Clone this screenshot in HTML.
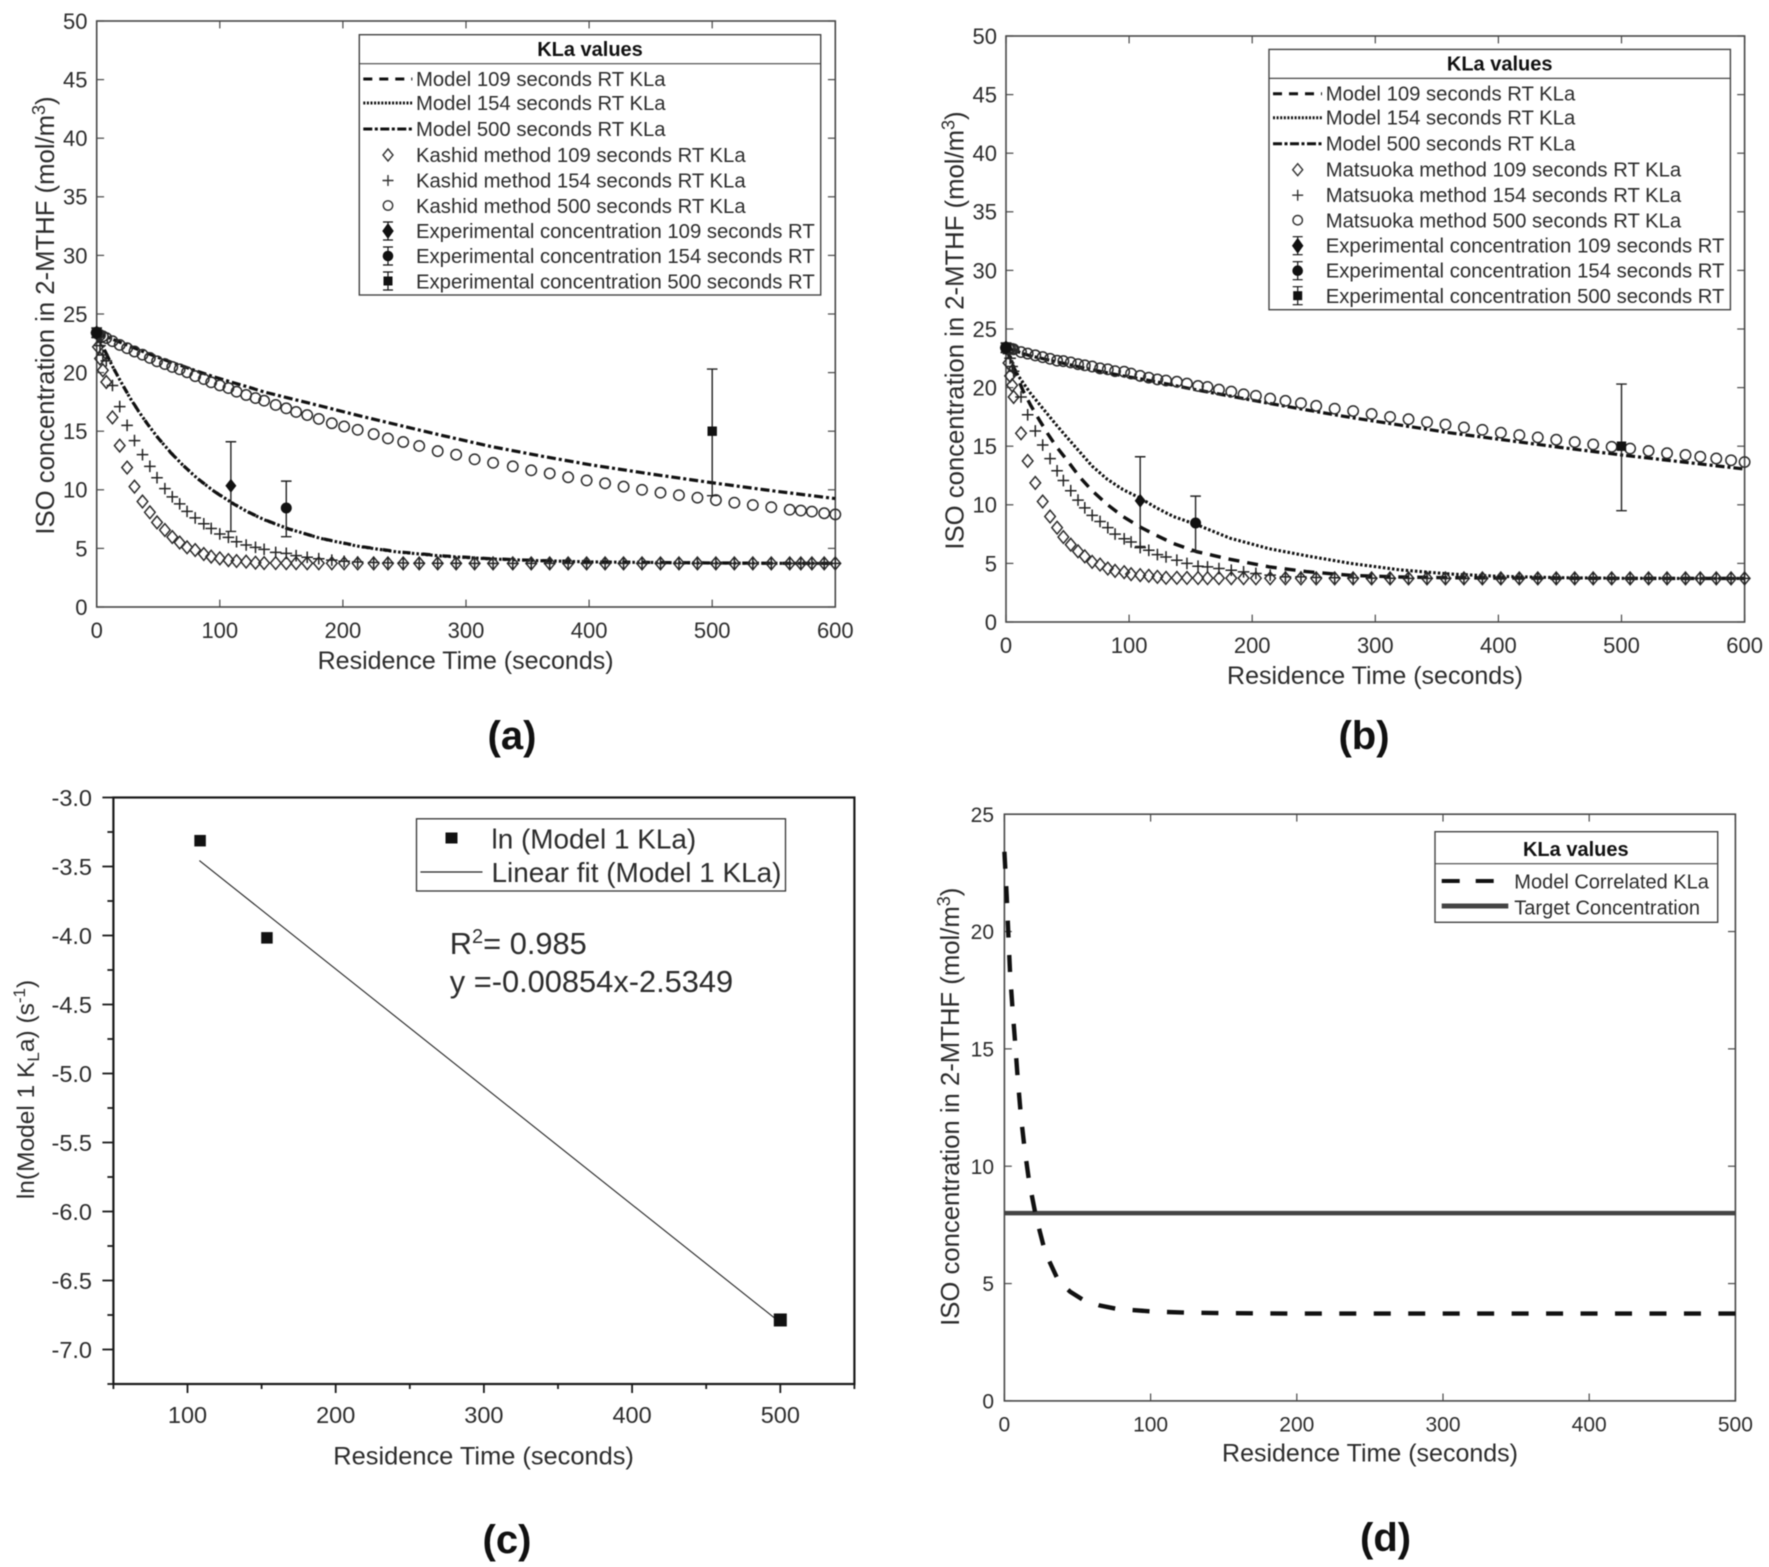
<!DOCTYPE html>
<html lang="en">
<head>
<meta charset="utf-8">
<title>ISO concentration charts</title>
<style>
html,body{margin:0;padding:0;background:#fff;}
svg{display:block;filter:blur(0.45px);}
text{font-family:"Liberation Sans",Arial,sans-serif;fill:#2c2c2c;}
.leg{font-size:20.3px;}
.hdr{font-size:20px;font-weight:bold;fill:#111;text-anchor:middle;}
.cap{font-size:40px;font-weight:bold;fill:#111;text-anchor:middle;}
.title{font-size:25px;text-anchor:middle;}
.ytitle{font-size:25.7px;text-anchor:middle;}
</style>
</head>
<body>
<svg id="fig" xmlns="http://www.w3.org/2000/svg" width="1769" height="1567" viewBox="0 0 1769 1567">
<rect x="0" y="0" width="1769" height="1567" fill="#fff"/>
<g id="pa"></g>
<g id="pb"></g>
<g id="pc"></g>
<g id="pd"></g>

<!-- Panel a static text -->
<text class="title" x="465.6" y="669">Residence Time (seconds)</text>
<text class="ytitle" transform="translate(54,315.5) rotate(-90)">ISO concentration in 2-MTHF (mol/m<tspan dy="-9" font-size="18">3</tspan><tspan dy="9">)</tspan></text>
<text class="cap" x="512" y="749">(a)</text>

<g>
<rect x="359.3" y="34.7" width="461.4" height="260.3" fill="#fff" stroke="#444" stroke-width="1.4"/>
<line x1="359.3" y1="63.7" x2="820.7" y2="63.7" stroke="#444" stroke-width="1.2"/>
<text class="hdr" x="590" y="56">KLa values</text>
<line x1="363.3" y1="79" x2="412.3" y2="79" stroke="#111" stroke-width="3" stroke-dasharray="9 7"/>
<line x1="363.3" y1="103" x2="412.3" y2="103" stroke="#111" stroke-width="3" stroke-dasharray="2 1.6"/>
<line x1="363.3" y1="129" x2="412.3" y2="129" stroke="#111" stroke-width="3" stroke-dasharray="9 2.5 3 2.5"/>
<path d="M388 149l5 6l-5 6l-5-6z" fill="none" stroke="#333" stroke-width="1.4"/>
<path d="M382.5 180.5h11M388 175v11" fill="none" stroke="#333" stroke-width="1.4"/>
<circle cx="388" cy="205.5" r="4.7" fill="none" stroke="#333" stroke-width="1.4"/>
<path d="M388 222v18M383 222h10M383 240h10M388 224l5 7l-5 7l-5-7z" fill="#111" stroke="#111" stroke-width="1.2"/>
<path d="M388 247v18M383 247h10M383 265h10" fill="none" stroke="#111" stroke-width="1.2"/>
<circle cx="388" cy="256" r="5.3" fill="#111"/>
<path d="M388 272v18M383 272h10M383 290h10" fill="none" stroke="#111" stroke-width="1.2"/>
<rect x="383.5" y="276.5" width="9" height="9" fill="#111"/>
<text class="leg" x="416" y="86">Model 109 seconds RT KLa</text>
<text class="leg" x="416" y="110">Model 154 seconds RT KLa</text>
<text class="leg" x="416" y="136">Model 500 seconds RT KLa</text>
<text class="leg" x="416" y="162">Kashid method 109 seconds RT KLa</text>
<text class="leg" x="416" y="187.5">Kashid method 154 seconds RT KLa</text>
<text class="leg" x="416" y="213">Kashid method 500 seconds RT KLa</text>
<text class="leg" x="416" y="238">Experimental concentration 109 seconds RT</text>
<text class="leg" x="416" y="263">Experimental concentration 154 seconds RT</text>
<text class="leg" x="416" y="288.5">Experimental concentration 500 seconds RT</text>
</g>

<!-- Panel b static text -->
<text class="title" x="1375" y="684">Residence Time (seconds)</text>
<text class="ytitle" transform="translate(963.5,330.5) rotate(-90)">ISO concentration in 2-MTHF (mol/m<tspan dy="-9" font-size="18">3</tspan><tspan dy="9">)</tspan></text>
<text class="cap" x="1364" y="749">(b)</text>

<g transform="translate(909.7,14.7)">
<rect x="359.3" y="34.7" width="461.4" height="260.3" fill="#fff" stroke="#444" stroke-width="1.4"/>
<line x1="359.3" y1="63.7" x2="820.7" y2="63.7" stroke="#444" stroke-width="1.2"/>
<text class="hdr" x="590" y="56">KLa values</text>
<line x1="363.3" y1="79" x2="412.3" y2="79" stroke="#111" stroke-width="3" stroke-dasharray="9 7"/>
<line x1="363.3" y1="103" x2="412.3" y2="103" stroke="#111" stroke-width="3" stroke-dasharray="2 1.6"/>
<line x1="363.3" y1="129" x2="412.3" y2="129" stroke="#111" stroke-width="3" stroke-dasharray="9 2.5 3 2.5"/>
<path d="M388 149l5 6l-5 6l-5-6z" fill="none" stroke="#333" stroke-width="1.4"/>
<path d="M382.5 180.5h11M388 175v11" fill="none" stroke="#333" stroke-width="1.4"/>
<circle cx="388" cy="205.5" r="4.7" fill="none" stroke="#333" stroke-width="1.4"/>
<path d="M388 222v18M383 222h10M383 240h10M388 224l5 7l-5 7l-5-7z" fill="#111" stroke="#111" stroke-width="1.2"/>
<path d="M388 247v18M383 247h10M383 265h10" fill="none" stroke="#111" stroke-width="1.2"/>
<circle cx="388" cy="256" r="5.3" fill="#111"/>
<path d="M388 272v18M383 272h10M383 290h10" fill="none" stroke="#111" stroke-width="1.2"/>
<rect x="383.5" y="276.5" width="9" height="9" fill="#111"/>
<text class="leg" x="416" y="86">Model 109 seconds RT KLa</text>
<text class="leg" x="416" y="110">Model 154 seconds RT KLa</text>
<text class="leg" x="416" y="136">Model 500 seconds RT KLa</text>
<text class="leg" x="416" y="162">Matsuoka method 109 seconds RT KLa</text>
<text class="leg" x="416" y="187.5">Matsuoka method 154 seconds RT KLa</text>
<text class="leg" x="416" y="213">Matsuoka method 500 seconds RT KLa</text>
<text class="leg" x="416" y="238">Experimental concentration 109 seconds RT</text>
<text class="leg" x="416" y="263">Experimental concentration 154 seconds RT</text>
<text class="leg" x="416" y="288.5">Experimental concentration 500 seconds RT</text>
</g>

<!-- Panel c static text -->
<text class="title" style="font-size:25.4px" x="483.6" y="1464.5">Residence Time (seconds)</text>
<text class="title" style="font-size:24.5px" transform="translate(34,1089.5) rotate(-90)">ln(Model 1 K<tspan dy="5" font-size="17">L</tspan><tspan dy="-5">a) (s</tspan><tspan dy="-9" font-size="17">-1</tspan><tspan dy="9">)</tspan></text>
<text class="cap" x="507" y="1553">(c)</text>
<g>
<rect x="416.5" y="818.8" width="369" height="72.2" fill="#fff" stroke="#333" stroke-width="1.3"/>
<rect x="445.5" y="832.5" width="12" height="11" fill="#111"/>
<line x1="420.4" y1="872" x2="482.5" y2="872" stroke="#222" stroke-width="1.2"/>
<text x="491.5" y="848.5" font-size="27.9">ln (Model 1 KLa)</text>
<text x="491.5" y="882" font-size="27.9">Linear fit (Model 1 KLa)</text>
</g>
<text x="449.8" y="954" font-size="30.8">R<tspan dy="-11" font-size="20">2</tspan><tspan dy="11">= 0.985</tspan></text>
<text x="449.8" y="992" font-size="30.8">y =-0.00854x-2.5349</text>

<!-- Panel d static text -->
<text class="title" x="1370" y="1461.4">Residence Time (seconds)</text>
<text class="ytitle" transform="translate(959,1106.8) rotate(-90)">ISO concentration in 2-MTHF (mol/m<tspan dy="-9" font-size="18">3</tspan><tspan dy="9">)</tspan></text>
<text class="cap" x="1385.6" y="1551">(d)</text>
<g>
<rect x="1435" y="831.7" width="282.7" height="90.6" fill="#fff" stroke="#444" stroke-width="1.4"/>
<line x1="1435" y1="863.7" x2="1717.7" y2="863.7" stroke="#444" stroke-width="1.2"/>
<text class="hdr" x="1575.8" y="856">KLa values</text>
<line x1="1441.7" y1="881" x2="1496" y2="881" stroke="#111" stroke-width="4" stroke-dasharray="18 16"/>
<line x1="1441.7" y1="906" x2="1508.3" y2="906" stroke="#444" stroke-width="5"/>
<text class="leg" style="font-size:20px" x="1514.3" y="888.7">Model Correlated KLa</text>
<text class="leg" style="font-size:20px" x="1514.3" y="914.7">Target Concentration</text>
</g>
</svg>

<script>
// ---------- Tick values ----------
const xTicksTop = [0,100,200,300,400,500,600];
const yTicksTop = [0,5,10,15,20,25,30,35,40,45,50];
const xTicksC = [100,200,300,400,500];
const xMinorC = [50,150,250,350,450,550];
const yTicksC = [-3,-3.5,-4,-4.5,-5,-5.5,-6,-6.5,-7];
const yMinorC = [-3.25,-3.75,-4.25,-4.75,-5.25,-5.75,-6.25,-6.75,-7.25];
const xTicksD = [0,100,200,300,400,500];
const yTicksD = [0,5,10,15,20,25];

// ---------- Shared model-line time grid ----------
const lineTime = [0,3,6,10,14,20,27,34,41,50,60,70,82,95,109,122,136,155,182,214,244,280,320,360,400,450,500,550,600];

// ---------- Panel a ----------
const aModel109 = [23.4,22.69,22.01,21.14,20.31,19.14,17.87,16.71,15.65,14.41,13.18,12.1,10.96,9.9,8.92,8.16,7.47,6.69,5.86,5.17,4.72,4.37,4.12,3.96,3.87,3.8,3.76,3.73,3.72];
const aModel154 = [23.4,22.7,22,21.15,20.3,19.15,17.85,16.7,15.65,14.4,13.2,12.1,10.95,9.9,8.95,8.15,7.45,6.7,5.85,5.15,4.7,4.35,4.1,3.95,3.85,3.8,3.75,3.73,3.72];
const aModel500 = [23.4,23.28,23.15,22.98,22.8,22.55,22.25,21.95,21.65,21.3,20.9,20.55,20.1,19.65,19.2,18.8,18.35,17.85,17.15,16.3,15.55,14.65,13.7,12.9,12.15,11.35,10.6,9.9,9.25];
const aTime = [0,1,2.7,5,7.8,12.8,18.7,24.7,30.7,37.2,43.2,49,55.4,61.4,67.4,73.4,80,87,93,100,107,113.6,121.4,129,136,145.4,154,162,171,180.4,191,201,212,225,236.6,249,262,277,292,307,322,338,353,368,383,398,413,428,443,458,473,488,503,518,533,548,563,572,581,591,600];
const aKashid109 = [23.4,22.2,21.2,20.2,19.2,16.18,13.77,11.9,10.27,9,8.08,7.22,6.57,5.97,5.5,5.09,4.86,4.52,4.3,4.15,4,3.92,3.87,3.78,3.75,3.75,3.74,3.74,3.73,3.73,3.73,3.73,3.72,3.72,3.72,3.72,3.72,3.72,3.72,3.72,3.72,3.72,3.72,3.72,3.72,3.72,3.72,3.72,3.72,3.72,3.72,3.72,3.72,3.72,3.72,3.72,3.72,3.72,3.72,3.72,3.72];
const aKashid154 = [23.4,23,22.3,21.5,21,18.9,17.1,15.5,14.2,13,12,11.03,10.1,9.4,8.8,8.16,7.6,7.1,6.7,6.23,5.94,5.57,5.29,5.09,4.92,4.66,4.58,4.38,4.24,4.12,4,3.9,3.84,3.8,3.77,3.75,3.74,3.73,3.73,3.72,3.72,3.72,3.72,3.72,3.72,3.72,3.72,3.72,3.72,3.72,3.72,3.72,3.72,3.72,3.72,3.72,3.72,3.72,3.72,3.72,3.72];
const aKashid500 = [23.4,23.3,23.2,23.1,22.95,22.68,22.36,22.08,21.8,21.53,21.25,20.96,20.73,20.48,20.28,20.03,19.7,19.45,19.17,18.91,18.68,18.37,18.09,17.83,17.6,17.24,16.95,16.64,16.38,16.05,15.68,15.4,15.12,14.75,14.38,14.08,13.74,13.3,13,12.6,12.3,12,11.66,11.4,11.07,10.8,10.55,10.27,10,9.75,9.54,9.33,9.12,8.9,8.7,8.52,8.3,8.23,8.14,8,7.9];

// ---------- Panel b ----------
const bModel109 = [23.4,22.6,21.8,20.7,19.7,18.5,17.25,16.05,14.95,13.75,12.35,11.2,10.05,9,8.1,7.4,6.7,6,5.35,4.7,4.3,3.98,3.84,3.78,3.75,3.73,3.72,3.72,3.72];
const bModel154 = [23.4,22.8,21.8,21,20.4,19.5,18.6,17.7,16.8,15.7,14.5,13.3,12.2,11.3,10.57,9.75,9,8.3,7.15,6.25,5.65,5,4.45,4.1,3.9,3.78,3.73,3.72,3.72];
const bModel500 = [23.4,23.3,23.2,23.05,22.9,22.7,22.54,22.37,22.2,22,21.75,21.52,21.27,21,20.75,20.5,20.2,19.8,19.28,18.65,18.1,17.45,16.8,16.15,15.6,14.9,14.25,13.65,13.05];
const bTime = [0,2,3.3,5,6.2,12.2,17.6,23.8,29.8,35.8,41.5,46.6,52.6,58.5,64,70,76.4,82.7,88.6,96,101.6,109,116,123,130,138.8,147,156,163.7,173,183,193,203,214.6,227,239.6,252,267,282,297,312,327,342,357,372,387,402,417,432,447,462,477,492,507,522,537,552,564,577,589,600];
const bMatsuoka109 = [23.4,22.1,21,20.2,19.2,16.1,13.74,11.87,10.28,9,8.05,7.25,6.6,6.03,5.6,5.13,4.9,4.56,4.36,4.25,4.08,4,3.94,3.85,3.77,3.77,3.76,3.75,3.74,3.74,3.74,3.74,3.73,3.73,3.73,3.72,3.72,3.72,3.72,3.72,3.72,3.72,3.72,3.72,3.72,3.72,3.72,3.72,3.72,3.72,3.72,3.72,3.72,3.72,3.72,3.72,3.72,3.72,3.72,3.72,3.72];
const bMatsuoka154 = [23.4,22.9,22.5,21.8,21.4,19.2,17.68,16.3,15.1,13.94,12.9,12.07,11.2,10.4,9.74,9.1,8.58,8.05,7.5,7.1,6.83,6.35,6.12,5.75,5.55,5.27,5,4.76,4.7,4.56,4.42,4.28,4.14,4,3.85,3.85,3.8,3.78,3.76,3.74,3.73,3.72,3.72,3.72,3.72,3.72,3.72,3.72,3.72,3.72,3.72,3.72,3.72,3.72,3.72,3.72,3.72,3.72,3.72,3.72,3.72];
const bMatsuoka500 = [23.4,23.35,23.33,23.3,23.27,23.03,22.9,22.75,22.6,22.46,22.3,22.26,22.15,22,21.9,21.8,21.64,21.56,21.4,21.36,21.2,21,20.85,20.7,20.6,20.5,20.34,20.14,20.06,19.83,19.66,19.43,19.3,19.06,18.87,18.67,18.44,18.2,18,17.75,17.5,17.3,17.05,16.85,16.6,16.4,16.15,15.95,15.75,15.55,15.35,15.15,14.95,14.8,14.6,14.4,14.25,14.1,13.95,13.8,13.65];

// ---------- Experimental points (a and b) ----------
const exp109Time = [0,109];
const exp109Conc = [23.4,10.35];
const exp109Low = [23,6.45];
const exp109High = [23.8,14.1];
const exp154Time = [0,154];
const exp154Conc = [23.4,8.45];
const exp154Low = [23,6];
const exp154High = [23.8,10.74];
const exp500Time = [0,500];
const exp500Conc = [23.4,15];
const exp500Low = [23,9.5];
const exp500High = [23.8,20.3];

// ---------- Panel c ----------
const cTime = [108.5,153.6,500];
const cLnKla = [-3.313,-4.017,-6.786];
const cFitTime = [108,500];
const cFitLnKla = [-3.457,-6.805];

// ---------- Panel d ----------
const dTime = [0,1.6,2.7,3.9,5.5,7.3,9,11.2,13.7,16.9,21.5,27.9,37,45,54,65,77,101,124,150,200,300,400,500];
const dModel = [23.4,21.5,19.85,18.2,16.76,15.3,13.83,12.2,10.8,9.35,7.88,6.33,5.11,4.65,4.3,4.07,3.92,3.81,3.76,3.74,3.72,3.72,3.72,3.72];
const dTargetTime = [0,500];
const dTarget = [8,8];

// ---------- Helpers ----------
const NS = 'http://www.w3.org/2000/svg';
function mk(parent, tag, attrs) {
  const n = document.createElementNS(NS, tag);
  for (const k in attrs) n.setAttribute(k, attrs[k]);
  parent.appendChild(n);
  return n;
}
function scale(d0, d1, r0, r1) {
  return v => r0 + (v - d0) * (r1 - r0) / (d1 - d0);
}
function linePath(xs, vs, X, Y) {
  return xs.map((t, i) => (i ? 'L' : 'M') + X(t).toFixed(2) + ' ' + Y(vs[i]).toFixed(2)).join('');
}
function drawLine(g, xs, vs, X, Y, style, name) {
  const el = mk(g, 'path', Object.assign({d: linePath(xs, vs, X, Y), fill: 'none'}, style));
  
  
  return el;
}
function drawMarkers(g, xs, vs, X, Y, shape, name) {
  xs.forEach((t, i) => {
    const cx = X(t), cy = Y(vs[i]);
    let el;
    if (shape === 'circle') {
      el = mk(g, 'circle', {cx: cx, cy: cy, r: 5.2, fill: 'none', stroke: '#2c2c2c', 'stroke-width': 1.5});
    } else if (shape === 'diamond') {
      el = mk(g, 'path', {d: 'M' + cx + ' ' + (cy - 6.3) + 'l5.3 6.3l-5.3 6.3l-5.3-6.3z', fill: 'none', stroke: '#2c2c2c', 'stroke-width': 1.5});
    } else {
      el = mk(g, 'path', {d: 'M' + (cx - 5.8) + ' ' + cy + 'h11.6M' + cx + ' ' + (cy - 5.8) + 'v11.6', fill: 'none', stroke: '#222', 'stroke-width': 1.5});
    }
    
    
  });
}
function drawExp(g, xs, vs, lo, hi, X, Y, shape, name) {
  xs.forEach((t, i) => {
    const cx = X(t), cy = Y(vs[i]), y1 = Y(lo[i]), y2 = Y(hi[i]);
    const bar = mk(g, 'path', {d: 'M' + cx + ' ' + y1 + 'V' + y2 + 'M' + (cx - 5.3) + ' ' + y1 + 'h10.6M' + (cx - 5.3) + ' ' + y2 + 'h10.6', fill: 'none', stroke: '#222', 'stroke-width': 1.4});
    
    
    let el;
    if (shape === 'circle') {
      el = mk(g, 'circle', {cx: cx, cy: cy, r: 5.5, fill: '#111'});
    } else if (shape === 'diamond') {
      el = mk(g, 'path', {d: 'M' + cx + ' ' + (cy - 7) + 'l5.5 7l-5.5 7l-5.5-7z', fill: '#111'});
    } else {
      el = mk(g, 'rect', {x: cx - 4.7, y: cy - 4.7, width: 9.4, height: 9.4, fill: '#111'});
    }
    
    
  });
}
function drawTickLabel(g, x, y, s, anchor, size, name) {
  const el = mk(g, 'text', {x: x, y: y, 'text-anchor': anchor, 'font-size': size});
  el.textContent = s;
  
  
}
function drawSeg(g, x1, y1, x2, y2, color, w, name) {
  const el = mk(g, 'line', {x1: x1, y1: y1, x2: x2, y2: y2, stroke: color, 'stroke-width': w});
  
  
}
function boxAxes(g, xT, yT, X, Y, x0, x1, y0, y1, tickLen, size, yLabelX, xLabelY) {
  const f = mk(g, 'rect', {x: x0, y: y1, width: x1 - x0, height: y0 - y1, fill: 'none', stroke: '#484848', 'stroke-width': 1.6});
  
  
  xT.forEach(t => {
    drawSeg(g, X(t), y0, X(t), y0 - tickLen, '#484848', 1.2, 'x-tick');
    drawSeg(g, X(t), y1, X(t), y1 + tickLen, '#484848', 1.2, 'x-tick-top');
    drawTickLabel(g, X(t), xLabelY, String(t), 'middle', size, 'x-tick-label');
  });
  yT.forEach(v => {
    drawSeg(g, x0, Y(v), x0 + tickLen, Y(v), '#484848', 1.2, 'y-tick');
    drawSeg(g, x1, Y(v), x1 - tickLen, Y(v), '#484848', 1.2, 'y-tick-right');
    drawTickLabel(g, yLabelX, Y(v) + size * 0.36, String(v), 'end', size, 'y-tick-label');
  });
}

const DASH = {stroke: '#111', 'stroke-width': 3.4, 'stroke-dasharray': '11 8'};
const DASH_OVERLAP = {stroke: '#111', 'stroke-width': 3.2, 'stroke-dasharray': '8 12'};
const DOT = {stroke: '#111', 'stroke-width': 3.1, 'stroke-dasharray': '2.5 2.1'};
const DASHDOT = {stroke: '#111', 'stroke-width': 3.2, 'stroke-dasharray': '9 3 3 3'};

// ---------- Panel a draw ----------
(function () {
  const g = document.getElementById('pa');
  const X = scale(0, 600, 96.7, 835.3), Y = scale(0, 50, 607, 21);
  boxAxes(g, xTicksTop, yTicksTop, X, Y, 96.7, 835.3, 607, 21, 7.4, 22, 87.5, 638);
  drawLine(g, lineTime, aModel109, X, Y, DASH_OVERLAP, 'model-109-line');
  drawLine(g, lineTime, aModel154, X, Y, DOT, 'model-154-line');
  drawLine(g, lineTime, aModel500, X, Y, DASHDOT, 'model-500-line');
  drawMarkers(g, aTime, aKashid109, X, Y, 'diamond', 'kashid-109-point');
  drawMarkers(g, aTime, aKashid154, X, Y, 'plus', 'kashid-154-point');
  drawMarkers(g, aTime, aKashid500, X, Y, 'circle', 'kashid-500-point');
  drawExp(g, exp500Time, exp500Conc, exp500Low, exp500High, X, Y, 'square', 'experimental-500-point');
  drawExp(g, exp109Time, exp109Conc, exp109Low, exp109High, X, Y, 'diamond', 'experimental-109-point');
  drawExp(g, exp154Time, exp154Conc, exp154Low, exp154High, X, Y, 'circle', 'experimental-154-point');
})();

// ---------- Panel b draw ----------
(function () {
  const g = document.getElementById('pb');
  const X = scale(0, 600, 1006, 1744.6), Y = scale(0, 50, 622, 36);
  boxAxes(g, xTicksTop, yTicksTop, X, Y, 1006, 1744.6, 622, 36, 7.4, 22, 997, 653);
  drawLine(g, lineTime, bModel109, X, Y, DASH, 'model-109-line');
  drawLine(g, lineTime, bModel154, X, Y, DOT, 'model-154-line');
  drawLine(g, lineTime, bModel500, X, Y, DASHDOT, 'model-500-line');
  drawMarkers(g, bTime, bMatsuoka109, X, Y, 'diamond', 'matsuoka-109-point');
  drawMarkers(g, bTime, bMatsuoka154, X, Y, 'plus', 'matsuoka-154-point');
  drawMarkers(g, bTime, bMatsuoka500, X, Y, 'circle', 'matsuoka-500-point');
  drawExp(g, exp500Time, exp500Conc, exp500Low, exp500High, X, Y, 'square', 'experimental-500-point');
  drawExp(g, exp109Time, exp109Conc, exp109Low, exp109High, X, Y, 'diamond', 'experimental-109-point');
  drawExp(g, exp154Time, exp154Conc, exp154Low, exp154High, X, Y, 'circle', 'experimental-154-point');
})();

// ---------- Panel c draw ----------
(function () {
  const g = document.getElementById('pc');
  const x0 = 113.4, x1 = 854.4, y0 = 1384, y1 = 797.5;
  const X = scale(50, 550, x0, x1), Y = scale(-3, -7.25, y1, y0);
  const f = mk(g, 'rect', {x: x0, y: y1, width: x1 - x0, height: y0 - y1, fill: 'none', stroke: '#1a1a1a', 'stroke-width': 2.2});
  
  
  xTicksC.forEach(t => {
    drawSeg(g, X(t), y0, X(t), y0 + 9, '#1a1a1a', 1.8, 'x-tick');
    drawTickLabel(g, X(t), 1423, String(t), 'middle', 23.5, 'x-tick-label');
  });
  xMinorC.forEach(t => {
    drawSeg(g, X(t), y0, X(t), y0 + 5, '#1a1a1a', 1.8, 'x-minor-tick');
  });
  yTicksC.forEach(v => {
    drawSeg(g, x0, Y(v), x0 - 11, Y(v), '#1a1a1a', 1.8, 'y-tick');
    drawTickLabel(g, 92, Y(v) + 8.5, v.toFixed(1), 'end', 23.5, 'y-tick-label');
  });
  yMinorC.forEach(v => {
    drawSeg(g, x0, Y(v), x0 - 6, Y(v), '#1a1a1a', 1.8, 'y-minor-tick');
  });
  drawLine(g, cFitTime, cFitLnKla, X, Y, {stroke: '#222', 'stroke-width': 1.1}, 'linear-fit-line');
  cTime.forEach((t, i) => {
    const s = i === 2 ? 13 : 11.5;
    const el = mk(g, 'rect', {x: X(t) - s / 2, y: Y(cLnKla[i]) - s / 2, width: s, height: s, fill: '#111'});
    
    
  });
})();

// ---------- Panel d draw ----------
(function () {
  const g = document.getElementById('pd');
  const X = scale(0, 500, 1004.4, 1735.4), Y = scale(0, 25, 1400.9, 814.2);
  boxAxes(g, xTicksD, yTicksD, X, Y, 1004.4, 1735.4, 1400.9, 814.2, 7.4, 21, 994, 1431.5);
  drawLine(g, dTargetTime, dTarget, X, Y, {stroke: '#444', 'stroke-width': 4.5}, 'target-concentration-line');
  const model = drawLine(g, dTime, dModel, X, Y, {stroke: '#111', 'stroke-width': 4.4}, 'model-correlated-line');
  // Fit the dash period so that a dash finishes at the right edge of the axes.
  const total = model.getTotalLength();
  const dashCount = Math.round((total - 17) / 35);
  model.setAttribute('stroke-dasharray', '17 ' + ((total - 17) / dashCount - 17).toFixed(3));
})();
</script>
</body>
</html>
